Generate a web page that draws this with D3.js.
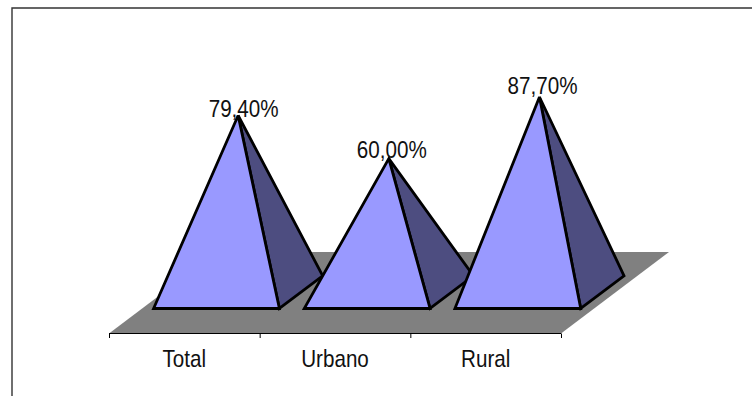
<!DOCTYPE html>
<html>
<head>
<meta charset="utf-8">
<script src="https://cdn.jsdelivr.net/npm/d3@7"></script>
<style>
html,body{margin:0;padding:0;background:#fff;overflow:hidden}
svg{display:block}
text{font-family:"Liberation Sans",Arial,sans-serif;fill:#111}
</style>
</head>
<body>
<svg id="chart" width="752" height="396"></svg>
<script>
// Chart data
const categories = ["Total", "Urbano", "Rural"];
const values = [79.4, 60.0, 87.7];
const valueLabels = ["79,40%", "60,00%", "87,70%"];

const svg = d3.select("#chart");

// Oblique projection: band along the front edge, depth into the floor, value upward
const x = d3.scaleBand().domain(categories).range([109, 561]);
const y = d3.scaleLinear().domain([0, 100]).range([333.5, 111]);
const depth = d3.scaleLinear().domain([0, 1]);
const depthDx = depth.copy().range([0, 108]);
const depthDy = depth.copy().range([0, -81.5]);
const project = (px, d, v) => [px + depthDx(d), y(v) + depthDy(d)];

const pyramidWidth = 0.835;   // share of the band taken by the base
const pyramidShift = -1;      // base sits slightly left of the band centre
const baseFront = 0.307, baseBack = 0.708, baseMid = (baseFront + baseBack) / 2;
const line = d3.line();

// Chart frame
svg.append("path")
  .attr("d", line([[12, 396], [12, 8], [752, 8]]))
  .attr("fill", "none").attr("stroke", "#333").attr("stroke-width", 1.4);

// Floor
const [x0, x1] = x.range();
svg.append("path")
  .attr("d", line([project(x0, 0, 0), project(x1, 0, 0), project(x1, 1, 0), project(x0, 1, 0)]) + "Z")
  .attr("fill", "#808080");

// Category axis with ticks on band boundaries
const boundaries = categories.map(c => x(c)).concat(x1);
const axis = svg.append("g").attr("transform", `translate(0,${y(0)})`)
  .call(d3.axisBottom(d3.scaleIdentity().domain([x0, x1])).tickValues(boundaries).tickSize(4.5).tickFormat(""));
axis.selectAll("path,line").attr("stroke", "#000").attr("stroke-width", 1);
axis.select(".domain").attr("d", `M${x0},0H${x1}`);

// Vertically tall glyphs: narrowed horizontally after sizing
const stretched = (sel, tx, ty) => sel
  .attr("transform", (d, i) => `translate(${tx(d, i)},${ty(d, i)}) scale(0.86,1)`)
  .attr("text-anchor", "middle").attr("font-size", 24);

stretched(svg.selectAll(".cat").data(categories).join("text").attr("class", "cat").text(d => d),
  d => x(d) + x.bandwidth() / 2, () => 367);

// Pyramids, drawn left to right so each overlaps its neighbour's shaded face
categories.forEach((c, i) => {
  const inset = x.bandwidth() * (1 - pyramidWidth) / 2;
  const l = x(c) + inset + pyramidShift, r = x(c) + x.bandwidth() - inset + pyramidShift, m = (l + r) / 2;
  const frontL = project(l, baseFront, 0), frontR = project(r, baseFront, 0);
  const backR = project(r, baseBack, 0), apex = project(m, baseMid, values[i]);
  const g = svg.append("g").attr("stroke", "#000").attr("stroke-width", 2.8)
    .attr("stroke-linejoin", "miter").attr("stroke-miterlimit", 3);
  g.append("path").attr("d", line([frontR, backR, apex]) + "Z").attr("fill", "#4d4d80");
  g.append("path").attr("d", line([frontL, frontR, apex]) + "Z").attr("fill", "#9999ff");
});

// Value labels above each apex, nudged clear of the taller neighbours
const labelNudge = [[-0.5, 1.4], [-3, -0.2], [-3, -3.4]];
stretched(svg.selectAll(".val").data(valueLabels).join("text").attr("class", "val").text(d => d),
  (d, i) => project(x(categories[i]) + x.bandwidth() / 2, baseMid, values[i])[0] + 5 + labelNudge[i][0],
  (d, i) => project(0, baseMid, values[i])[1] + labelNudge[i][1]);
</script>
</body>
</html>
